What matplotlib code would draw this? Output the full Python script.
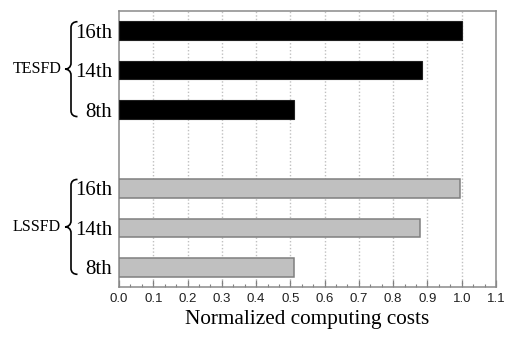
import matplotlib
matplotlib.use("Agg")
import matplotlib.pyplot as plt
from matplotlib.path import Path
from matplotlib.patches import PathPatch
from matplotlib.ticker import MultipleLocator
import numpy as np

# Data
orders = ["8th", "14th", "16th"]
groups = ["LSSFD", "TESFD"]
lssfd_costs = [0.51, 0.878, 0.996]
tesfd_costs = [0.51, 0.883, 1.0]
x_ticks = [round(0.1 * i, 1) for i in range(12)]

W, H = 507, 340
fig = plt.figure(figsize=(W / 100, H / 100), dpi=100)
L, R, T, B = 119, 496, 11, 287
ax = fig.add_axes([L / W, 1 - B / H, (R - L) / W, (B - T) / H])

pos_l = [0, 1, 2]
pos_t = [4, 5, 6]
bh = 0.47
ax.barh(pos_l, lssfd_costs, height=bh, color="#c0c0c0", edgecolor="#7f7f7f",
        linewidth=1.1, zorder=3)
ax.barh(pos_t, tesfd_costs, height=bh, color="#000000", edgecolor="#202020",
        linewidth=0.8, zorder=3)

ax.set_xlim(0, 1.1)
ax.set_ylim(-0.5, 6.5)
ax.set_xticks(x_ticks)
ax.set_xticklabels([f"{v:.1f}" for v in x_ticks], fontfamily="Liberation Sans",
                   fontsize=9.5, color="#202020")
ax.xaxis.set_minor_locator(MultipleLocator(0.1 / 3))
ax.tick_params(axis="x", which="major", direction="in", length=5, width=0.9,
               color="#808080", pad=4.5)
ax.tick_params(axis="x", which="minor", direction="in", length=2.5, width=0.8,
               color="#808080")
ax.set_yticks(pos_l + pos_t)
ax.set_yticklabels(orders + orders, fontfamily="Liberation Serif", fontsize=15)
ax.tick_params(axis="y", length=0, pad=5)

for v in x_ticks[1:-1]:
    ax.axvline(v, color="#c0c0c0", linestyle=(0, (1, 1.5)), linewidth=1.0, zorder=1)

for s in ax.spines.values():
    s.set_color("#8a8a8a")
    s.set_linewidth(1.1)

ax.set_xlabel("Normalized computing costs", fontfamily="Liberation Serif",
              fontsize=15.3, labelpad=3.5)

# Braces
def ypx(y):
    return T + (6.5 - y) * (B - T) / 7.0

def f(x, y):
    return (x / W, 1 - y / H)

def brace(top, mid, bot, xl=65, xv=71, xr=77.5):
    verts = [
        f(xr, top), f(xv + 2.5, top), f(xv, top + 2), f(xv, top + 6),
        f(xv, mid - 6),
        f(xv, mid - 2), f(xl + 3, mid), f(xl, mid),
        f(xl + 3, mid), f(xv, mid + 2), f(xv, mid + 6),
        f(xv, bot - 6),
        f(xv, bot - 2), f(xv + 2.5, bot), f(xr, bot),
    ]
    codes = [Path.MOVETO, Path.CURVE4, Path.CURVE4, Path.CURVE4,
             Path.LINETO,
             Path.CURVE4, Path.CURVE4, Path.CURVE4,
             Path.CURVE4, Path.CURVE4, Path.CURVE4,
             Path.LINETO,
             Path.CURVE4, Path.CURVE4, Path.CURVE4]
    p = PathPatch(Path(verts, codes), transform=fig.transFigure, fill=False,
                  edgecolor="black", linewidth=1.2)
    fig.add_artist(p)

for name, ps in zip(groups, [pos_l, pos_t]):
    top = ypx(ps[2]) - 9
    bot = ypx(ps[0]) + 7
    mid = ypx(ps[1]) - 1
    brace(top, mid, bot)
    fig.text(37 / W, 1 - mid / H, name, ha="center", va="center",
             fontfamily="Liberation Serif", fontsize=11.5)

fig.savefig("out.png", dpi=100)
